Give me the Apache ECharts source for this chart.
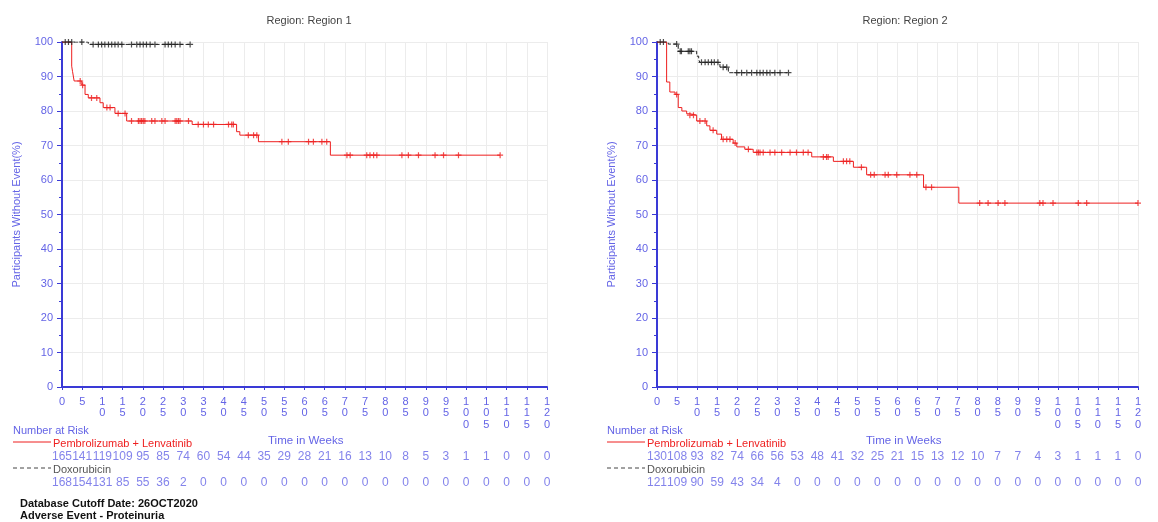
<!DOCTYPE html>
<html>
<head>
<meta charset="utf-8">
<script src="https://cdn.jsdelivr.net/npm/echarts@6/dist/echarts.min.js"></script>
<style>
  html, body { margin: 0; padding: 0; background: #fff; }
  #main { width: 1158px; height: 522px; }
</style>
</head>
<body>
<div id="main"></div>
<script>
// weeks shown on the x axis and in the risk table
var weeks = [0,5,10,15,20,25,30,35,40,45,50,55,60,65,70,75,80,85,90,95,100,105,110,115,120];

// number at risk, region 1
var r1Pembro = [165,141,119,109,95,85,74,60,54,44,35,29,28,21,16,13,10,8,5,3,1,1,0,0,0];
var r1Doxo = [168,154,131,85,55,36,2,0,0,0,0,0,0,0,0,0,0,0,0,0,0,0,0,0,0];
// number at risk, region 2
var r2Pembro = [130,108,93,82,74,66,56,53,48,41,32,25,21,15,13,12,10,7,7,4,3,1,1,1,0];
var r2Doxo = [121,109,90,59,43,34,4,0,0,0,0,0,0,0,0,0,0,0,0,0,0,0,0,0,0];

// KM steps [week, % without event after the step]
var r1PembroSteps = [[0,100],[2.4,93],[2.6,91.5],[3.0,88.7],[4.9,87.5],[5.7,84.8],[6.5,83.8],[9.4,82.4],[10.2,81.0],[13.1,79.3],[16.0,77.1],[32.2,76.1],[43.2,74.0],[44.0,73.0],[48.6,71.1],[66.4,67.2],[108.4,67.2]];
var r1PembroCens = [[4.5,88.7],[5.1,87.5],[7.3,83.8],[8.6,83.8],[11.1,81],[11.9,81],[13.9,79.3],[15.6,79.3],
  [17.2,77.1],[18.9,77.1],[19.3,77.1],[19.7,77.1],[20.1,77.1],[20.5,77.1],[22.2,77.1],[23.0,77.1],[24.7,77.1],[25.5,77.1],[28.0,77.1],[28.4,77.1],[28.8,77.1],[29.2,77.1],[31.3,77.1],
  [33.7,76.1],[35.0,76.1],[36.2,76.1],[37.5,76.1],[41.2,76.1],[42.0,76.1],[42.4,76.1],
  [46.1,73],[47.4,73],[48.2,73],
  [54.4,71.1],[56.0,71.1],[61.0,71.1],[62.2,71.1],[64.3,71.1],[65.5,71.1],
  [70.5,67.2],[71.3,67.2],[75.4,67.2],[76.2,67.2],[77.1,67.2],[77.9,67.2],[84.1,67.2],[85.7,67.2],[88.2,67.2],[92.3,67.2],[94.4,67.2],[98.1,67.2],[108.4,67.2]];
var r1DoxoSteps = [[0,100],[6.5,99.3],[31.7,99.3]];
var r1DoxoCens = [[0.8,100],[1.6,100],[2.4,100],[4.9,100],
  [7.7,99.3],[9.0,99.3],[9.8,99.3],[10.6,99.3],[11.5,99.3],[12.3,99.3],[13.1,99.3],[13.9,99.3],[14.8,99.3],
  [17.2,99.3],[18.5,99.3],[19.3,99.3],[20.1,99.3],[20.9,99.3],[21.8,99.3],[23.0,99.3],
  [25.5,99.3],[26.3,99.3],[27.1,99.3],[28.0,99.3],[29.2,99.3],[31.7,99.3]];

var r2PembroSteps = [[0,100],[2.4,88.4],[3.2,85.5],[4.5,84.8],[5.3,81.0],[6.2,80.0],[7.4,79.2],[8.2,78.8],[9.9,77.1],[12.4,75.7],[13.2,74.4],[14.9,73.3],[16.1,71.8],[19.0,70.7],[19.9,69.6],[21.9,68.9],[24.0,68.0],[38.6,66.7],[44.0,65.4],[49.0,63.7],[52.3,61.5],[66.5,57.9],[75.3,53.3],[120,53.3]];
var r2PembroCens = [[4.9,84.8],[8.2,78.8],[9.1,78.8],[10.7,77.1],[12.0,77.1],[14.0,74.4],[16.5,71.8],[17.4,71.8],[18.2,71.8],[19.5,70.7],[22.8,68.9],
  [24.9,68],[25.3,68],[25.7,68],[26.5,68],[28.2,68],[29.4,68],[31.1,68],[33.2,68],[34.8,68],[36.5,68],[37.7,68],
  [41.5,66.7],[42.3,66.7],[42.7,66.7],[46.5,65.4],[47.3,65.4],[48.1,65.4],[51.0,63.7],
  [53.3,61.5],[54.2,61.5],[56.9,61.5],[57.7,61.5],[59.8,61.5],[63.1,61.5],[64.8,61.5],[67.1,57.9],[68.5,57.9],
  [80.5,53.3],[82.6,53.3],[85.1,53.3],[86.8,53.3],[95.5,53.3],[96.3,53.3],[98.8,53.3],[105.1,53.3],[107.2,53.3],[120,53.3]];
var r2DoxoSteps = [[0,100],[2.8,99.4],[5.3,97.3],[9.9,95.9],[10.4,94.9],[10.7,94.1],[15.7,92.7],[17.8,91.1],[32.8,91.1]];
var r2DoxoCens = [[0.8,100],[1.6,100],[4.9,99.4],[5.8,97.3],[6.1,97.3],[7.8,97.3],[8.2,97.3],[8.6,97.3],
  [11.1,94.1],[12.0,94.1],[12.8,94.1],[13.6,94.1],[14.3,94.1],[15.2,94.1],[16.5,92.7],[17.4,92.7],
  [19.9,91.1],[21.1,91.1],[22.4,91.1],[23.6,91.1],[24.9,91.1],[25.7,91.1],[26.5,91.1],[27.4,91.1],[28.2,91.1],[29.4,91.1],[30.7,91.1],[32.8,91.1]];

var RED = '#ee1f1f', BLACK = '#222222', BLUE = '#6464e6', AXIS = '#3a3ad6';
var FONT = 'Liberation Sans';
var plusSym = 'path://M4,0h2v10h-2z M0,4h10v2h-10z';

function mainX(idx) {
  return {
    type: 'value', gridIndex: idx, min: 0, max: 120, interval: 5,
    axisLine: { lineStyle: { color: AXIS, width: 2 } },
    axisTick: { show: true, length: 3, lineStyle: { color: AXIS } },
    axisLabel: { color: BLUE, fontFamily: FONT, fontSize: 11, lineHeight: 11.5, margin: 9,
      formatter: function (v) { return String(v).split('').join('\n'); } },
    splitLine: { show: true, lineStyle: { color: '#ececec', width: 1 } }
  };
}
function mainY(idx) {
  return {
    type: 'value', gridIndex: idx, min: 0, max: 100, interval: 10,
    name: 'Participants Without Event(%)', nameLocation: 'middle', nameGap: 40,
    nameTextStyle: { color: BLUE, fontFamily: FONT, fontSize: 11 },
    axisLine: { show: true, lineStyle: { color: AXIS, width: 2 } },
    axisTick: { show: true, length: 5, lineStyle: { color: AXIS } },
    minorTick: { show: true, splitNumber: 2, length: 3, lineStyle: { color: AXIS } },
    axisLabel: { color: BLUE, fontFamily: FONT, fontSize: 11, margin: 9 },
    splitLine: { show: true, lineStyle: { color: '#ececec', width: 1 } }
  };
}
function riskX(idx) {
  return { type: 'value', gridIndex: idx, min: 0, max: 120, show: false };
}
function riskY(idx) {
  return { type: 'value', gridIndex: idx, min: 0, max: 1, show: false };
}
function kmLine(xi, data, color, dashed) {
  return { type: 'line', xAxisIndex: xi, yAxisIndex: xi, data: data, step: 'end',
    showSymbol: false, silent: true, z: dashed ? 3 : 4,
    lineStyle: { color: color, width: 1, type: dashed ? [4, 2] : 'solid' } };
}
function censors(xi, data, color) {
  return { type: 'scatter', xAxisIndex: xi, yAxisIndex: xi, data: data, symbol: plusSym,
    symbolSize: 6, silent: true, z: 5, itemStyle: { color: color } };
}
function riskRow(xi, counts, row) {
  return { type: 'scatter', xAxisIndex: xi, yAxisIndex: xi, symbolSize: 0, silent: true,
    data: weeks.map(function (w, i) { return [w, row, counts[i]]; }),
    label: { show: true, position: 'inside', color: BLUE, fontFamily: FONT, fontSize: 12,
      formatter: function (p) { return p.value[2]; } } };
}
function tableText(x) {
  var txt = { fontFamily: FONT, fontSize: 11 };
  return [
    { type: 'text', left: x, top: 425, style: Object.assign({ text: 'Number at Risk', fill: BLUE }, txt) },
    { type: 'line', shape: { x1: x, y1: 442, x2: x + 38, y2: 442 }, style: { stroke: RED, lineWidth: 1 } },
    { type: 'text', left: x + 40, top: 438, style: Object.assign({ text: 'Pembrolizumab + Lenvatinib', fill: RED }, txt) },
    { type: 'line', shape: { x1: x, y1: 468, x2: x + 38, y2: 468 }, style: { stroke: '#444', lineWidth: 1, lineDash: [4, 3] } },
    { type: 'text', left: x + 40, top: 464, style: Object.assign({ text: 'Doxorubicin', fill: '#555' }, txt) }
  ];
}

var chart = echarts.init(document.getElementById('main'));
chart.setOption({
  animation: false,
  backgroundColor: '#fff',
  title: [
    { text: 'Region: Region 1', left: 304, top: 10, textAlign: 'center',
      textStyle: { color: '#444', fontFamily: FONT, fontSize: 11, fontWeight: 'normal' } },
    { text: 'Region: Region 2', left: 900, top: 10, textAlign: 'center',
      textStyle: { color: '#444', fontFamily: FONT, fontSize: 11, fontWeight: 'normal' } }
  ],
  grid: [
    { left: 62, top: 42, width: 485, height: 345 },
    { left: 657, top: 42, width: 481, height: 345 },
    { left: 62, top: 457, width: 485, height: 26 },
    { left: 657, top: 457, width: 481, height: 26 }
  ],
  xAxis: [mainX(0), mainX(1), riskX(2), riskX(3)],
  yAxis: [mainY(0), mainY(1), riskY(2), riskY(3)],
  series: [
    kmLine(0, r1PembroSteps, RED, false),
    censors(0, r1PembroCens, RED),
    kmLine(0, r1DoxoSteps, BLACK, true),
    censors(0, r1DoxoCens, BLACK),
    kmLine(1, r2PembroSteps, RED, false),
    censors(1, r2PembroCens, RED),
    kmLine(1, r2DoxoSteps, BLACK, true),
    censors(1, r2DoxoCens, BLACK),
    riskRow(2, r1Pembro, 1),
    riskRow(2, r1Doxo, 0),
    riskRow(3, r2Pembro, 1),
    riskRow(3, r2Doxo, 0)
  ],
  graphic: tableText(13).concat(tableText(607)).concat([
    { type: 'text', left: 268, top: 435, style: { text: 'Time in Weeks', fill: BLUE, fontFamily: FONT, fontSize: 11.5 } },
    { type: 'text', left: 866, top: 435, style: { text: 'Time in Weeks', fill: BLUE, fontFamily: FONT, fontSize: 11.5 } },
    { type: 'text', left: 20, top: 498, style: { text: 'Database Cutoff Date: 26OCT2020', fill: '#111', fontFamily: FONT, fontSize: 11, fontWeight: 'bold' } },
    { type: 'text', left: 20, top: 510, style: { text: 'Adverse Event - Proteinuria', fill: '#111', fontFamily: FONT, fontSize: 11, fontWeight: 'bold' } }
  ])
});
</script>
</body>
</html>
